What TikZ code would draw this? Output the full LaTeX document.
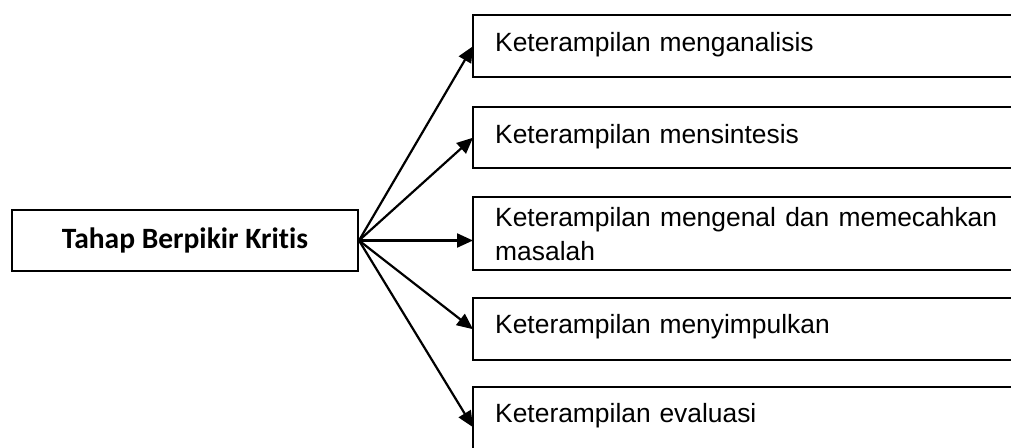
\documentclass[tikz,border=0pt]{standalone}
\usepackage{fontspec}
\setmainfont{Liberation Sans}
\newfontfamily\carlito[RawFeature=-liga]{Carlito}
\usetikzlibrary{arrows.meta}

\begin{document}
\begin{tikzpicture}[x=1pt,y=-1pt,
    box/.style={draw,line width=2pt},
    skill/.style={anchor=north west,inner xsep=22pt,inner ysep=0pt,text width=600pt,align=left,font=\fontsize{26.4}{34}\selectfont},
    side/.style={line width=2pt},
    arr/.style={line width=2.2pt,-{Triangle[length=16pt,width=14pt]}}]
    \useasboundingbox (0,0) rectangle (1011,447);
    \node[box,minimum width=346pt,minimum height=61pt,font=\carlito\bfseries\fontsize{29.5}{35}\selectfont] (tahap) at (185,240.5) {Tahap Berpikir Kritis};
    \node[skill,text height=36.7pt,text depth=25.3pt] (analisis) at (473,15) {Keterampilan menganalisis};
    \node[skill,text height=36pt,text depth=25pt] (sintesis) at (473,107) {Keterampilan mensintesis};
    \node[skill,minimum height=73pt,text width=502pt,align=justify] (masalah) at (473,197) {\hyphenpenalty=10000 Keterampilan mengenal dan memecahkan masalah};
    \node[skill,text height=35pt,text depth=27pt] (simpul) at (473,298) {Keterampilan menyimpulkan};
    \node[skill,text height=35pt,text depth=45pt] (evaluasi) at (473,387) {Keterampilan evaluasi};
    \foreach \n in {analisis,sintesis,masalah,simpul,evaluasi}
        \draw[side] (\n.north east) -| (\n.south west) -- (\n.south east);
    \draw[arr] (tahap.east) -- (analisis.west);
    \draw[arr] (tahap.east) -- (sintesis.west);
    \draw[arr] (tahap.east) -- (masalah.west |- tahap.east);
    \draw[arr] (tahap.east) -- (simpul.west);
    \draw[arr] (tahap.east) -- (evaluasi.west);
\end{tikzpicture}
\end{document}
